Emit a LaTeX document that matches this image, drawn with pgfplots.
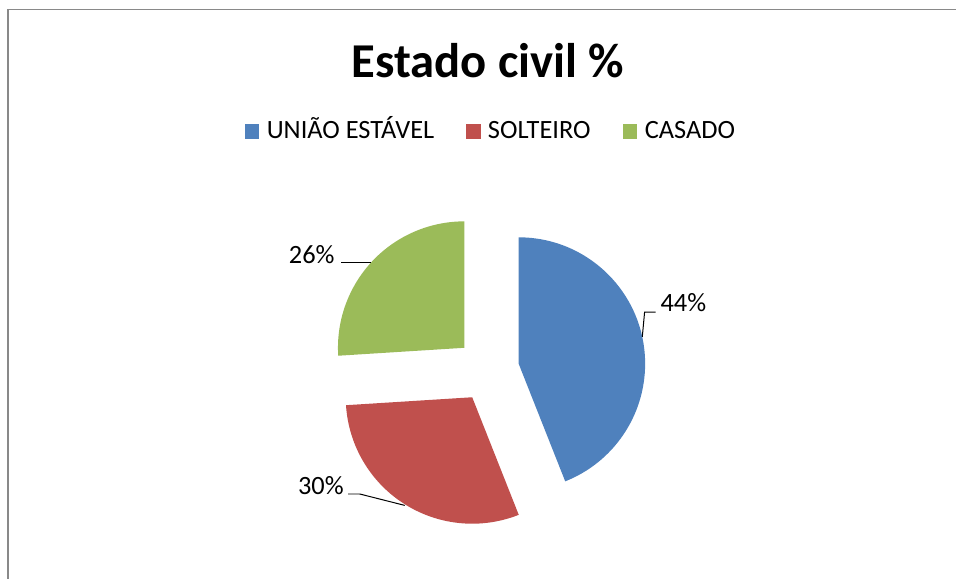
\documentclass[border=0pt]{standalone}
\usepackage{fontspec}
\setmainfont{Carlito}
\usepackage{pgfplots}
\pgfplotsset{compat=1.18}

\definecolor{cBlue}{HTML}{4F81BD}
\definecolor{cRed}{HTML}{C0504D}
\definecolor{cGreen}{HTML}{9BBB59}
\definecolor{cFrame}{HTML}{898989}

% shares (%)
\def\vA{44}\def\vB{30}\def\vC{26}
\def\R{94.9pt}

\begin{document}
\begin{tikzpicture}
\begin{axis}[
    x=0.75pt, y=0.75pt, y dir=reverse,
    xmin=0, xmax=957, ymin=0, ymax=579,
    scale only axis, hide axis, clip=false,
  ]
  \path (axis cs:0,0) rectangle (axis cs:957,579);
  % frame
  \draw[cFrame, line width=0.9pt] (axis cs:8,579) -- (axis cs:8,9.5) -- (axis cs:957,9.5);

  % slices (exploded)
  \pgfmathsetmacro{\aA}{90-3.6*\vA}
  \pgfmathsetmacro{\aB}{\aA-3.6*\vB}
  \pgfmathsetmacro{\aC}{\aB-3.6*\vC}
  \fill[cBlue]  (axis cs:519,364)   -- ++(90:\R)  arc[start angle=90,  end angle=\aA, radius=\R] -- cycle;
  \fill[cRed]   (axis cs:472.5,397.5) -- ++(\aA:\R) arc[start angle=\aA, end angle=\aB, radius=\R] -- cycle;
  \fill[cGreen] (axis cs:464.7,348) -- ++(\aB:\R) arc[start angle=\aB, end angle=\aC, radius=\R] -- cycle;

  % leader lines
  \draw[black, line width=0.75pt] (axis cs:642.7,337) -- (axis cs:645,312.3) -- (axis cs:656,312.3);
  \draw[black, line width=0.75pt] (axis cs:341.7,262.3) -- (axis cs:371.7,262.3);
  \draw[black, line width=0.75pt] (axis cs:348.3,494.3) -- (axis cs:360,494.3) -- (axis cs:405,505.7);

  % data labels
  \node[anchor=base west, inner sep=0pt, font=\fontsize{19.8}{22}\selectfont] at (axis cs:660.7,312) {44\%};
  \node[anchor=base east, inner sep=0pt, font=\fontsize{19.8}{22}\selectfont] at (axis cs:335,263.5) {26\%};
  \node[anchor=base west, inner sep=0pt, font=\fontsize{19.8}{22}\selectfont] at (axis cs:298,495) {30\%};

  % title
  \node[anchor=base, inner sep=0pt, font=\fontsize{36.5}{42}\selectfont\bfseries] at (axis cs:488,78) {Estado civil \%};

  % legend
  \fill[cBlue]  (axis cs:245,124.3) rectangle (axis cs:259.3,138.7);
  \fill[cRed]   (axis cs:466.7,124.3) rectangle (axis cs:481,138.7);
  \fill[cGreen] (axis cs:623,124.3) rectangle (axis cs:637.7,138.7);
  \node[anchor=base west, inner sep=0pt, font=\fontsize{19.8}{22}\selectfont] at (axis cs:266.7,138.5) {UNIÃO ESTÁVEL};
  \node[anchor=base west, inner sep=0pt, font=\fontsize{19.8}{22}\selectfont] at (axis cs:488,138.5) {SOLTEIRO};
  \node[anchor=base west, inner sep=0pt, font=\fontsize{19.8}{22}\selectfont] at (axis cs:645,138.5) {CASADO};
\end{axis}
\end{tikzpicture}
\end{document}
